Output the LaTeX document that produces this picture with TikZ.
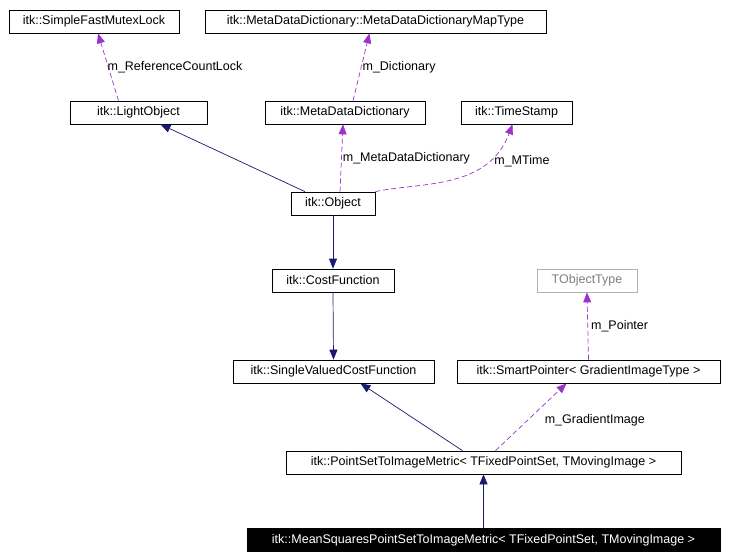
\documentclass[tikz,border=0pt]{standalone}
\usepackage{fontspec}
\setmainfont{Liberation Sans}
\usetikzlibrary{arrows.meta}

\definecolor{inhcol}{RGB}{25,25,112}
\definecolor{usecol}{RGB}{154,50,205}

\tikzset{
  cls/.style={draw=black, line width=0.7pt, inner sep=0pt, minimum height=23pt, font=\fontsize{12.5}{14}\selectfont},
  inh/.style={draw=inhcol, line width=0.7pt, -{Triangle[length=10pt,width=8pt]}},
  use/.style={draw=usecol, line width=0.7pt, dash pattern=on 5pt off 3pt, -{Triangle[length=10pt,width=8pt]}},
  lbl/.style={font=\fontsize{12.5}{14}\selectfont, inner sep=1pt}
}

\begin{document}
\begin{tikzpicture}[x=1pt,y=-1pt]
\useasboundingbox (0,0) rectangle (730,559);

% class boxes
\node [cls, minimum width=170pt] (mutex) at (94,21.5) {itk::SimpleFastMutexLock};
\node [cls, minimum width=341pt] (maptype) at (375.5,21.5) {itk::MetaDataDictionary::MetaDataDictionaryMapType};
\node [cls, minimum width=137pt] (lightobj) at (138.5,112.5) {itk::LightObject};
\node [cls, minimum width=160pt] (mddict) at (345,112.5) {itk::MetaDataDictionary};
\node [cls, minimum width=111pt] (timestamp) at (516.5,112.5) {itk::TimeStamp};
\node [cls, minimum width=84pt] (object) at (333,203.5) {itk::Object};
\node [cls, minimum width=122pt] (costfn) at (333,280.5) {itk::CostFunction};
\node [cls, minimum width=100pt, draw=black!30, text=black!50] (tobj) at (587,280.5) {TObjectType};
\node [cls, minimum width=201pt] (svcostfn) at (333.5,371.5) {itk::SingleValuedCostFunction};
\node [cls, minimum width=263pt] (smartptr) at (588.5,371.5) {itk::SmartPointer< GradientImageType >};
\node [cls, minimum width=395pt] (pstimetric) at (483.5,462.5) {itk::PointSetToImageMetric< TFixedPointSet, TMovingImage >};
\node [cls, minimum width=473pt, fill=black, text=white] (msmetric) at (483.5,540) {itk::MeanSquaresPointSetToImageMetric< TFixedPointSet, TMovingImage >};

% inheritance
\draw [inh] ([xshift=-28pt]object.north) -- ([xshift=22pt]lightobj.south);
\draw [inh] (object.south) -- (costfn.north);
\draw [inh] (costfn.south) -- (svcostfn.north);
\draw [inh] ([xshift=-21pt]pstimetric.north) -- ([xshift=27pt]svcostfn.south);
\draw [inh] (msmetric.north) -- (pstimetric.south);

% usage
\draw [use] ([xshift=-20pt]lightobj.north) -- ([xshift=4pt]mutex.south) node [lbl, pos=0.5, right=-2pt] {m\_ReferenceCountLock};
\draw [use] ([xshift=8pt]mddict.north) -- ([xshift=-6pt]maptype.south) node [lbl, pos=0.5, right] {m\_Dictionary};
\draw [use] ([xshift=7pt]object.north) -- ([xshift=-2pt]mddict.south) node [lbl, pos=0.5, right] {m\_MetaDataDictionary};
\draw [use] (object.north east) .. controls (420,182) and (488,190) .. ([xshift=-4pt]timestamp.south) node [lbl, pos=0.75, right=6pt] {m\_MTime};
\draw [use] (smartptr.north) -- (tobj.south) node [lbl, pos=0.5, right=2pt] {m\_Pointer};
\draw [use] ([xshift=12pt]pstimetric.north) -- ([xshift=-22pt]smartptr.south) node [lbl, pos=0.45, right=16pt] {m\_GradientImage};

\end{tikzpicture}
\end{document}
